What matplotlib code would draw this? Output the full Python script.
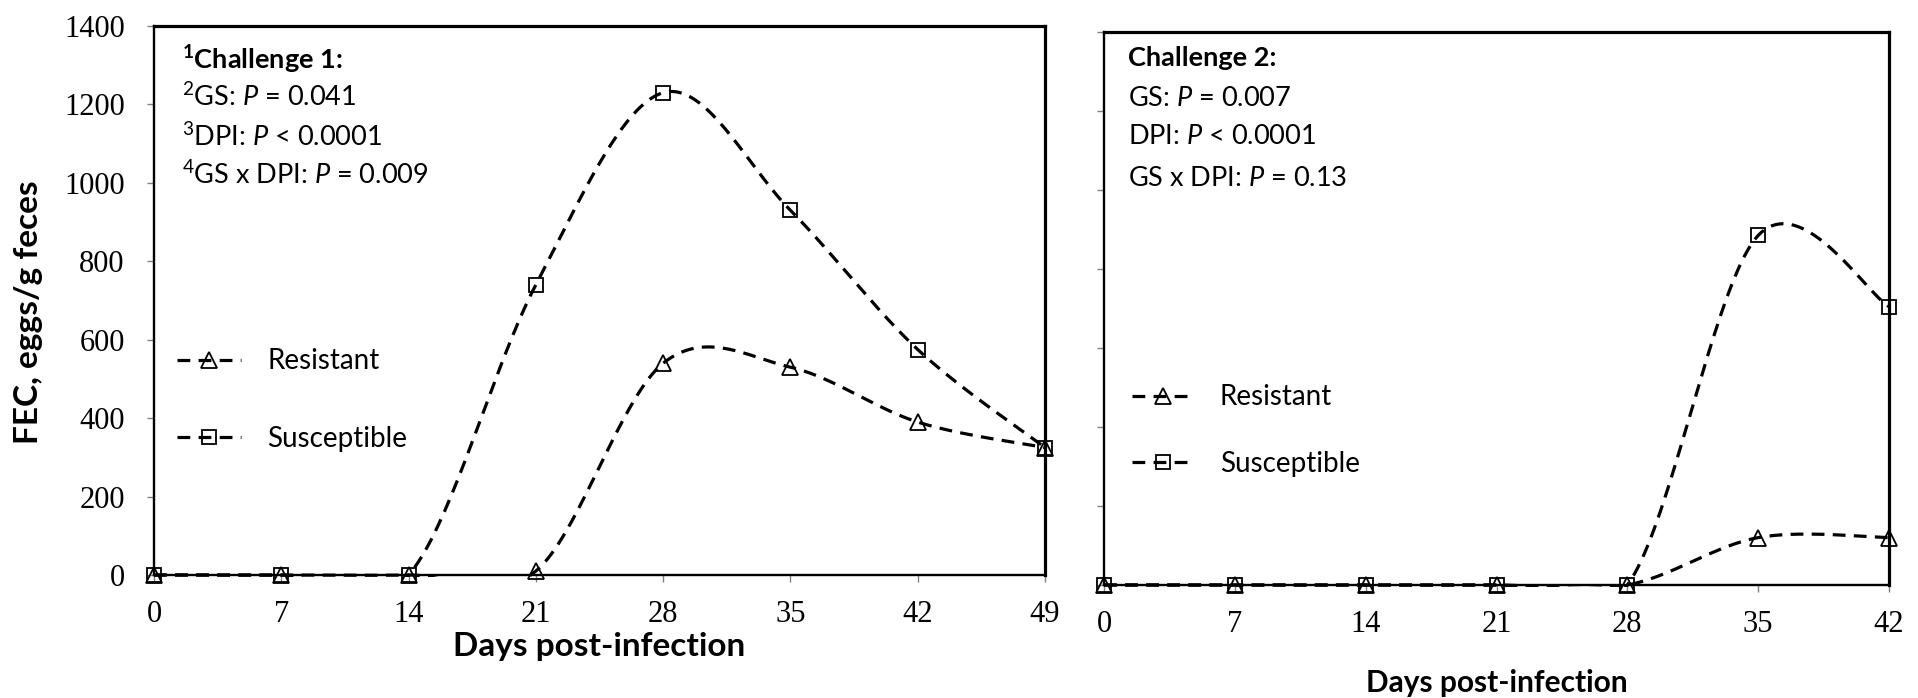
import numpy as np
import matplotlib
matplotlib.use("Agg")
import matplotlib.pyplot as plt
from matplotlib.patches import Rectangle
from matplotlib.lines import Line2D

# data (FEC, eggs/g feces)
days1 = [0, 7, 14, 21, 28, 35, 42, 49]
resistant1 = [0, 0, 0, 10, 540, 530, 390, 325]
susceptible1 = [0, 0, 0, 740, 1230, 930, 575, 325]

days2 = [0, 7, 14, 21, 28, 35, 42]
resistant2 = [0, 0, 0, 0, 0, 120, 120]
susceptible2 = [0, 0, 0, 0, 0, 885, 705]

stats1 = [r"$^{\mathbf{1}}$Challenge 1:",
          r"$^{2}$GS: $P$ = 0.041",
          r"$^{3}$DPI: $P$ < 0.0001",
          r"$^{4}$GS x DPI: $P$ = 0.009"]
stats2 = ["Challenge 2:",
          r"GS: $P$ = 0.007",
          r"DPI: $P$ < 0.0001",
          r"GS x DPI: $P$ = 0.13"]

yticks = [0, 200, 400, 600, 800, 1000, 1200, 1400]

plt.rcParams['font.family'] = ['Lato', 'DejaVu Sans']
plt.rcParams['mathtext.fontset'] = 'custom'
plt.rcParams['mathtext.rm'] = 'Lato'
plt.rcParams['mathtext.it'] = 'Lato:italic'
plt.rcParams['mathtext.bf'] = 'Lato:bold'

W, H = 1918, 698
fig = plt.figure(figsize=(W / 100, H / 100), dpi=100)


def px_axes(x0, x1, ytop, ybot):
    return fig.add_axes([x0 / W, 1 - ybot / H, (x1 - x0) / W, (ybot - ytop) / H])


def smooth(x, y, k=1 / 6, n=40):
    # excel style smoothed line (bezier through the points)
    x = np.asarray(x, float)
    y = np.asarray(y, float)
    px = np.concatenate([[x[0]], x, [x[-1]]])
    py = np.concatenate([[y[0]], y, [y[-1]]])
    t = np.linspace(0, 1, n)
    xs, ys = [], []
    for i in range(1, len(px) - 2):
        c1x = px[i] + (px[i + 1] - px[i - 1]) * k
        c1y = py[i] + (py[i + 1] - py[i - 1]) * k
        c2x = px[i + 1] - (px[i + 2] - px[i]) * k
        c2y = py[i + 1] - (py[i + 2] - py[i]) * k
        b = [(1 - t) ** 3, 3 * t * (1 - t) ** 2, 3 * t ** 2 * (1 - t), t ** 3]
        xs.append(b[0] * px[i] + b[1] * c1x + b[2] * c2x + b[3] * px[i + 1])
        ys.append(b[0] * py[i] + b[1] * c1y + b[2] * c2y + b[3] * py[i + 1])
    return np.concatenate(xs), np.concatenate(ys)


dash = dict(color='black', lw=2.3, ls=(0, (4, 2.6)))
serif = 'Liberation Serif'


def draw_panel(ax, days, res, sus, show_ylabels):
    clip = Rectangle((0, -0.004), 1, 1.008, transform=ax.transAxes,
                     facecolor='none', edgecolor='none')
    ax.add_patch(clip)
    for vals, mk, ms in [(res, '^', 12), (sus, 's', 10.5)]:
        sx, sy = smooth(days, vals)
        line, = ax.plot(sx, sy, **dash, zorder=3)
        line.set_clip_path(clip)
        ax.plot(days, vals, ls='none', marker=mk, ms=ms, mfc='none',
                mec='black', mew=1.3, clip_on=False, zorder=4)
    ax.set_xlim(days[0], days[-1])
    ax.set_ylim(0, 1400)
    ax.set_xticks(days)
    ax.set_yticks(yticks)
    ax.tick_params(axis='both', direction='out', length=5, width=1,
                   color='#808080', labelsize=22)
    ax.tick_params(axis='x', pad=13)
    ax.tick_params(axis='y', pad=16)
    for lab in ax.get_xticklabels() + ax.get_yticklabels():
        lab.set_fontfamily(serif)
    if not show_ylabels:
        ax.set_yticklabels([])
    for side in ['top', 'right']:
        ax.spines[side].set_linewidth(2.3)
    for side in ['left', 'bottom']:
        ax.spines[side].set_linewidth(1.7)


ax1 = px_axes(154, 1045, 26, 575)
ax2 = px_axes(1104, 1889, 32, 585)
draw_panel(ax1, days1, resistant1, susceptible1, True)
draw_panel(ax2, days2, resistant2, susceptible2, False)

ax1.set_xlabel("Days post-infection", fontsize=24, fontweight='bold', va='center')
ax1.xaxis.set_label_coords(0.5, -0.131)
ax2.set_xlabel("Days post-infection", fontsize=21.5, fontweight='bold', va='center')
ax2.xaxis.set_label_coords(0.5, -0.177)

fig.text(29 / W, 1 - 312 / H, "FEC, eggs/g feces", rotation=90, fontsize=24,
         fontweight='bold', ha='center', va='center')

for i, (txt, yy) in enumerate(zip(stats1, [60, 97, 137, 175])):
    fig.text(182 / W, 1 - yy / H, txt, fontsize=19.5, va='center',
             fontweight='bold' if i == 0 else 'normal')
for i, (txt, yy) in enumerate(zip(stats2, [58, 99, 137, 178])):
    fig.text(1128 / W, 1 - yy / H, txt, fontsize=19.5, va='center',
             fontweight='bold' if i == 0 else 'normal')

handles = [Line2D([], [], marker='^', ms=12, mfc='none', mec='black', mew=1.3, **dash),
           Line2D([], [], marker='s', ms=10.5, mfc='none', mec='black', mew=1.3, **dash)]
labels = ["Resistant", "Susceptible"]
ax1.legend(handles, labels, loc='upper left', bbox_to_anchor=(0.026, 0.413),
           frameon=False, fontsize=20, handlelength=2.3, handletextpad=0.95,
           labelspacing=1.85, borderpad=0, borderaxespad=0)
ax2.legend(handles, labels, loc='upper left', bbox_to_anchor=(0.036, 0.363),
           frameon=False, fontsize=20, handlelength=2.2, handletextpad=0.95,
           labelspacing=1.45, borderpad=0, borderaxespad=0)

fig.savefig("out.png", dpi=100)
